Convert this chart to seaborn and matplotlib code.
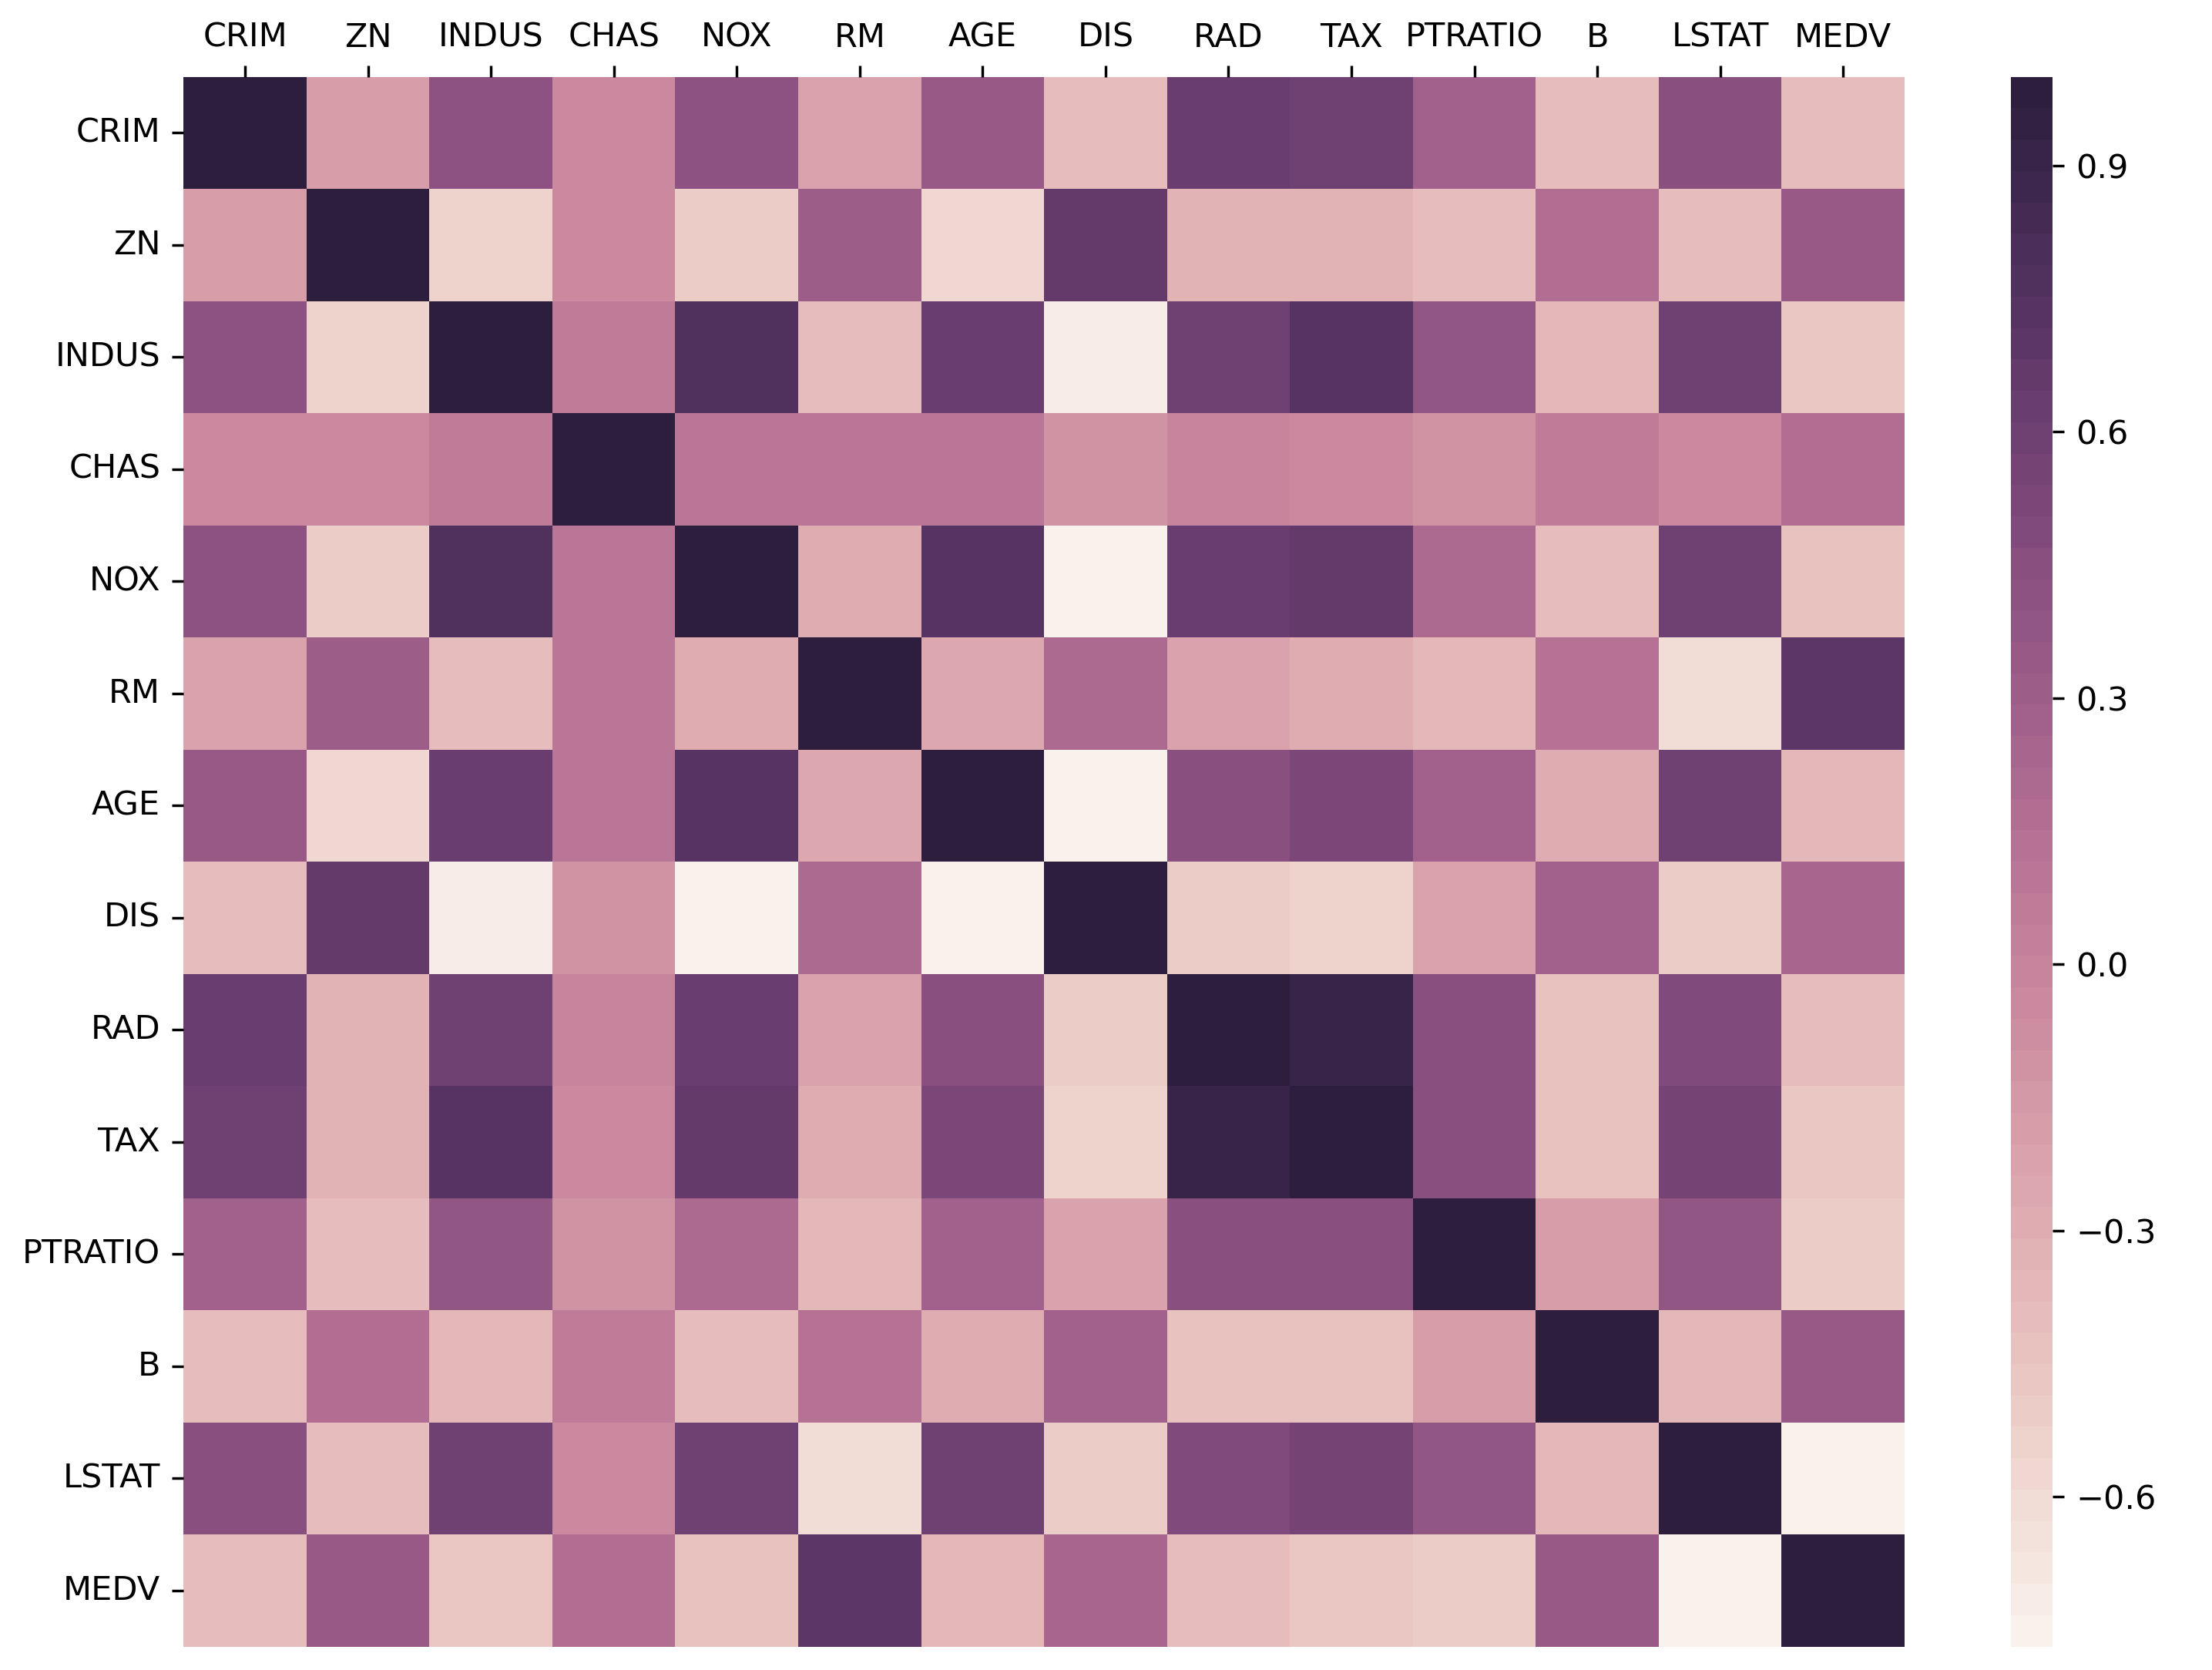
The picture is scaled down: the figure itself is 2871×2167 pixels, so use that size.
import matplotlib
matplotlib.use("Agg")
import matplotlib.pyplot as plt
from matplotlib.ticker import MultipleLocator
import pandas as pd
import seaborn as sns

# Boston housing correlation matrix
cols = ["CRIM", "ZN", "INDUS", "CHAS", "NOX", "RM", "AGE", "DIS", "RAD", "TAX",
        "PTRATIO", "B", "LSTAT", "MEDV"]

crim = [1.000, -0.200, 0.407, -0.056, 0.421, -0.219, 0.353, -0.380, 0.626, 0.583, 0.290, -0.385, 0.456, -0.388]
zn = [-0.200, 1.000, -0.534, -0.043, -0.517, 0.312, -0.570, 0.664, -0.312, -0.315, -0.392, 0.176, -0.413, 0.360]
indus = [0.407, -0.534, 1.000, 0.063, 0.764, -0.392, 0.645, -0.708, 0.595, 0.721, 0.383, -0.357, 0.604, -0.484]
chas = [-0.056, -0.043, 0.063, 1.000, 0.091, 0.091, 0.087, -0.099, -0.007, -0.036, -0.122, 0.049, -0.054, 0.175]
nox = [0.421, -0.517, 0.764, 0.091, 1.000, -0.302, 0.731, -0.769, 0.611, 0.668, 0.189, -0.380, 0.591, -0.427]
rm = [-0.219, 0.312, -0.392, 0.091, -0.302, 1.000, -0.240, 0.205, -0.210, -0.292, -0.356, 0.128, -0.614, 0.695]
age = [0.353, -0.570, 0.645, 0.087, 0.731, -0.240, 1.000, -0.748, 0.456, 0.506, 0.262, -0.274, 0.602, -0.377]
dis = [-0.380, 0.664, -0.708, -0.099, -0.769, 0.205, -0.748, 1.000, -0.495, -0.534, -0.232, 0.292, -0.497, 0.250]
rad = [0.626, -0.312, 0.595, -0.007, 0.611, -0.210, 0.456, -0.495, 1.000, 0.910, 0.465, -0.444, 0.489, -0.382]
tax = [0.583, -0.315, 0.721, -0.036, 0.668, -0.292, 0.506, -0.534, 0.910, 1.000, 0.461, -0.442, 0.544, -0.469]
ptratio = [0.290, -0.392, 0.383, -0.122, 0.189, -0.356, 0.262, -0.232, 0.465, 0.461, 1.000, -0.177, 0.374, -0.508]
b = [-0.385, 0.176, -0.357, 0.049, -0.380, 0.128, -0.274, 0.292, -0.444, -0.442, -0.177, 1.000, -0.366, 0.333]
lstat = [0.456, -0.413, 0.604, -0.054, 0.591, -0.614, 0.602, -0.497, 0.489, 0.544, 0.374, -0.366, 1.000, -0.738]
medv = [-0.388, 0.360, -0.484, 0.175, -0.427, 0.695, -0.377, 0.250, -0.382, -0.469, -0.508, 0.333, -0.738, 1.000]

corr = pd.DataFrame([crim, zn, indus, chas, nox, rm, age, dis, rad, tax, ptratio, b, lstat, medv],
                    index=cols, columns=cols)

fig = plt.figure(figsize=(2871 / 310, 2167 / 310), dpi=310)
ax = fig.add_axes([0.083, 0.014, 0.778, 0.940])
cax = fig.add_axes([0.909, 0.014, 0.019, 0.940])

cmap = sns.cubehelix_palette(50, light=0.95, dark=0.15)
sns.heatmap(corr, cmap=cmap, ax=ax, cbar_ax=cax)

ax.xaxis.tick_top()
ax.tick_params(axis='x', rotation=0)
ax.tick_params(axis='y', rotation=0)
cax.yaxis.set_major_locator(MultipleLocator(0.3))

plt.savefig("out.png", dpi=310)
